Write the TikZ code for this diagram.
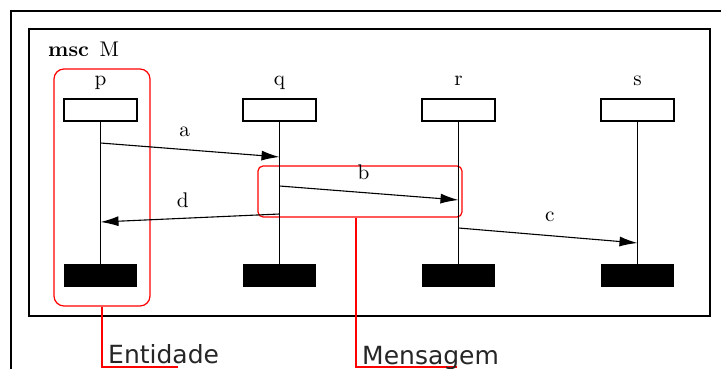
\documentclass[tikz,border=0pt]{standalone}
\usepackage{fontspec}
\newfontfamily\calloutfont{DejaVu Sans}
\usetikzlibrary{arrows.meta,positioning}

% msc lettering: ten-point shapes, blown up
\newcommand{\msctext}[1]{\scalebox{2.12}{\fontsize{10}{12}\selectfont #1}}

\begin{document}
\begin{tikzpicture}[
    x=1pt, y=-1pt,
    node distance=179pt,
    inst/.style={rectangle, draw=black, line width=1.3pt, minimum height=22pt, minimum width=73pt, inner sep=0pt},
    endbox/.style={rectangle, fill=black, minimum height=23pt, minimum width=73pt, inner sep=0pt},
    life/.style={line width=1.4pt},
    msg/.style={-{Latex[length=18pt,width=10pt]}, line width=1.1pt},
    lbl/.style={inner sep=0pt},
    hilite/.style={draw=red, line width=1.2pt, inner sep=0pt},
    pointer/.style={red, line width=1.2pt},
    notetext/.style={font=\calloutfont\fontsize{25}{30}\selectfont, text=black!85, inner sep=0pt, anchor=base west}
]
\useasboundingbox (0,0) rectangle (721,369);

% window edge and diagram frame
\draw[line width=2.2pt] (11,369) -- (11,11) -- (721,11);
\draw[line width=1.3pt] (29,29) rectangle (710,316);
\node[lbl, anchor=base west] (title) at (48,57) {\msctext{\textbf{msc}\enspace M}};

% highlighted regions
\node[hilite, rounded corners=10pt, minimum width=96pt, minimum height=237pt] (entity) at (102,187.5) {};
\node[hilite, rounded corners=5pt, minimum width=204pt, minimum height=51pt] (message) at (360,191.5) {};

% instances
\node[inst] (hp) at (100.5,110) {};
\node[inst, right of=hp] (hq) {};
\node[inst, right of=hq] (hr) {};
\node[inst, right of=hr] (hs) {};
\foreach \i in {p,q,r,s} {
    \node[endbox, below of=h\i, node distance=165.5pt] (e\i) {};
    \node[lbl, anchor=base] (n\i) at ([yshift=13pt]h\i.north) {\msctext{\i}};
    \draw[life] (h\i) -- (e\i);
}

% messages
\draw[msg] (hp |- 0,143) -- node[lbl, above=12pt, pos=0.47] {\msctext{a}} (hq |- 0,157);
\draw[msg] (hq |- 0,186) -- node[lbl, above=12pt, pos=0.47] {\msctext{b}} (hr |- 0,200);
\draw[msg] (hq |- 0,214) -- node[lbl, above=10pt, pos=0.54] {\msctext{d}} (hp |- 0,222);
\draw[msg] (hr |- 0,228) -- node[lbl, above=13pt, pos=0.51] {\msctext{c}} (hs |- 0,243);

% callouts
\coordinate (entity-end) at (178,367);
\draw[pointer] (entity.south) |- (entity-end);
\node[notetext] (entity-txt) at (108,363) {Entidade};
\coordinate (message-end) at (457,367);
\draw[pointer] ([xshift=-4pt]message.south) |- (message-end);
\node[notetext] (message-txt) at (362,364) {Mensagem};
\end{tikzpicture}
\end{document}
